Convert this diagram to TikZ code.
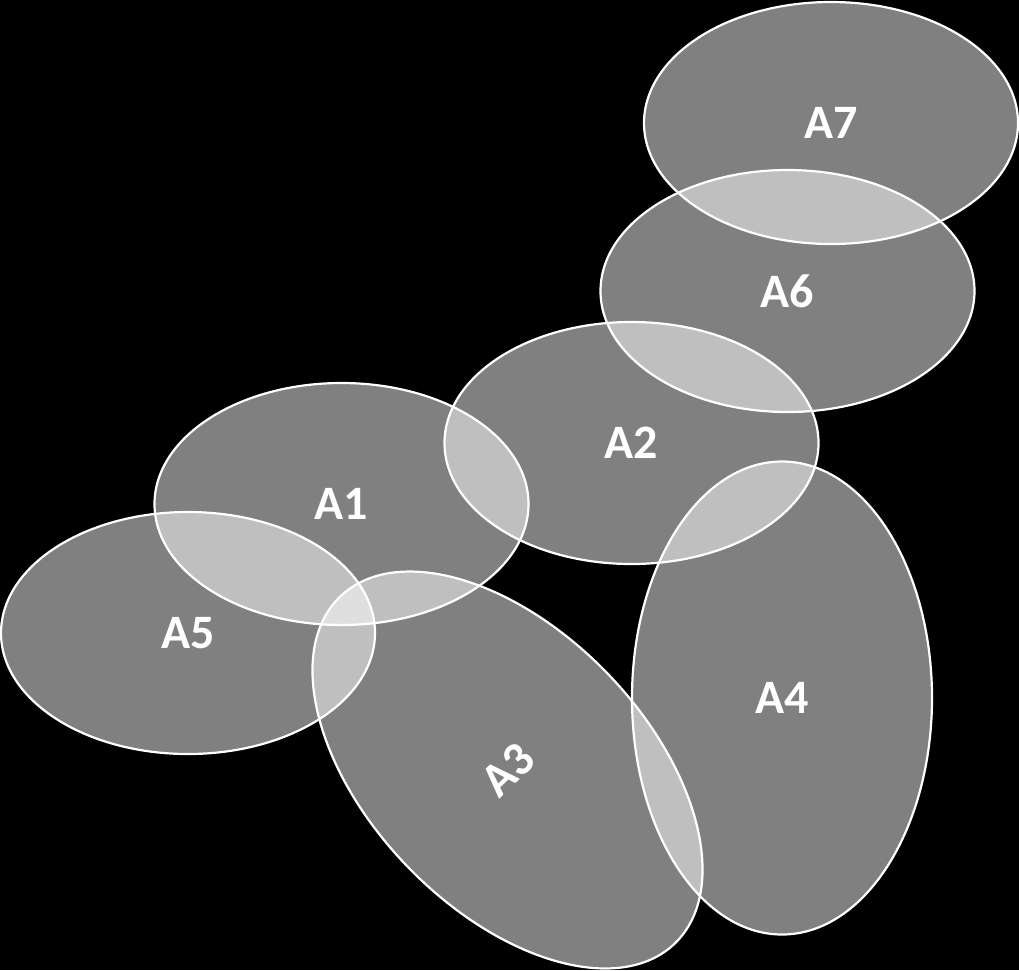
\documentclass[tikz,border=0pt]{standalone}
\usepackage{fontspec}
\setmainfont{Carlito}
\usetikzlibrary{shapes.geometric}
\tikzset{
  blob/.style={ellipse, draw=white, line width=2.2pt, fill=white, fill opacity=0.5,
    text opacity=1, text=white, inner sep=0pt,
    font=\bfseries\fontsize{48}{58}\selectfont},
  wide/.style={minimum width=374pt, minimum height=242pt},
  tall/.style={minimum width=300pt, minimum height=473pt}
}
\begin{document}
\begin{tikzpicture}[x=1pt,y=-1pt]
\fill[black] (0,0) rectangle (1019,970);
\useasboundingbox (0,0) rectangle (1019,970);
\node[blob, wide] (a7) at (831,123) {A7};
\node[blob, wide] (a6) at (787.5,291) {A6};
\node[blob, wide] (a2) at (631.5,443) {A2};
\node[blob, wide] (a1) at (341.5,504) {A1};
\node[blob, wide] (a5) at (188,633) {A5};
\node[blob, tall] (a4) at (782,698) {A4};
\node[blob, minimum width=278pt, minimum height=482pt, rotate=44] (a3) at (507.5,770) {A3};
\end{tikzpicture}
\end{document}
